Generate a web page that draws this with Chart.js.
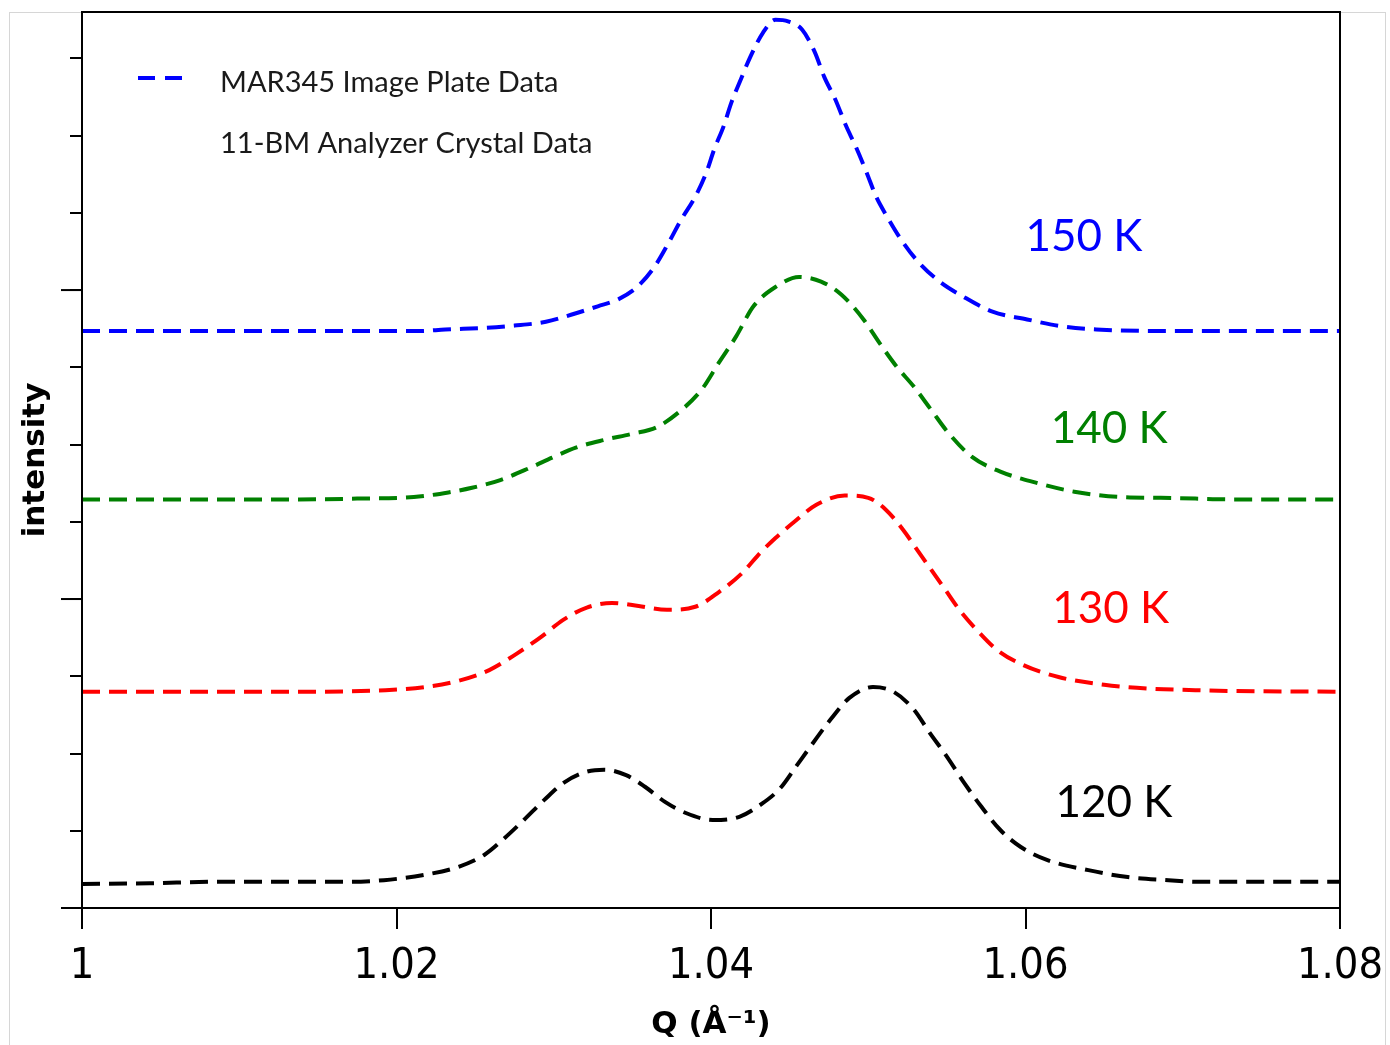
<!DOCTYPE html>
<html>
<head>
<meta charset="utf-8">
<script src="https://cdn.jsdelivr.net/npm/chart.js@4.4.1/dist/chart.umd.min.js"></script>
<style>
  html, body { margin: 0; padding: 0; background: #fff; }
  #frame { position: absolute; left: 9px; top: 12px; width: 1375px; height: 1040px;
           border: 1px solid #d6d6d6; border-bottom: none; }
  #plot  { position: absolute; left: 0; top: 0; }
</style>
</head>
<body>
<div id="frame"></div>
<canvas id="plot" width="1390" height="1045"></canvas>
<script>
// ─── DATA ─────────────────────────────────────────────────────
const q150 = [1.0, 1.0215, 1.0231, 1.0256, 1.0275, 1.0295, 1.0311, 1.0328, 1.0341, 1.0353,
              1.0364, 1.0373, 1.0381, 1.0390, 1.0397, 1.0402, 1.0408, 1.0413, 1.0419, 1.0425,
              1.0433, 1.0441, 1.0449, 1.0458, 1.0466, 1.0472, 1.0479, 1.0486, 1.0492, 1.0499,
              1.0505, 1.0512, 1.0521, 1.0532, 1.0546, 1.0560, 1.0579, 1.0601, 1.0623, 1.0645,
              1.0700, 1.08];
const i150 = [7.47, 7.47, 7.49, 7.51, 7.54, 7.59, 7.68, 7.79, 7.88, 8.04,
              8.30, 8.61, 8.91, 9.21, 9.52, 9.82, 10.12, 10.43, 10.73, 11.02,
              11.33, 11.50, 11.48, 11.37, 11.08, 10.76, 10.47, 10.12, 9.86, 9.52,
              9.21, 8.95, 8.65, 8.36, 8.10, 7.92, 7.72, 7.62, 7.53, 7.49,
              7.47, 7.47];

const q140 = [1.0, 1.0138, 1.0175, 1.0211, 1.0233, 1.0248, 1.0266, 1.0285, 1.0299, 1.0314,
              1.0332, 1.0350, 1.0365, 1.0379, 1.0394, 1.0405, 1.0416, 1.0427, 1.0441, 1.0456,
              1.0470, 1.0483, 1.0497, 1.0507, 1.0518, 1.0529, 1.0540, 1.0551, 1.0566, 1.0584,
              1.0606, 1.0631, 1.0661, 1.0686, 1.0708, 1.0730, 1.08];
const i140 = [5.29, 5.29, 5.30, 5.32, 5.38, 5.44, 5.54, 5.70, 5.83, 5.96,
              6.06, 6.14, 6.22, 6.41, 6.71, 7.06, 7.40, 7.79, 8.04, 8.17,
              8.11, 7.94, 7.62, 7.32, 7.01, 6.75, 6.45, 6.15, 5.84, 5.65,
              5.51, 5.39, 5.32, 5.31, 5.30, 5.29, 5.29];

const q130 = [1.0, 1.0138, 1.0193, 1.0218, 1.0241, 1.0259, 1.0277, 1.0292, 1.0306, 1.0321,
              1.0337, 1.0354, 1.0372, 1.0390, 1.0405, 1.0420, 1.0430, 1.0441, 1.0453, 1.0467,
              1.0485, 1.0500, 1.0511, 1.0522, 1.0531, 1.0540, 1.0549, 1.0558, 1.0569, 1.0582,
              1.0598, 1.0621, 1.0650, 1.0679, 1.0708, 1.0730, 1.08];
const i130 = [2.80, 2.80, 2.82, 2.86, 2.95, 3.08, 3.30, 3.51, 3.73, 3.89,
              3.95, 3.91, 3.86, 3.90, 4.09, 4.34, 4.57, 4.79, 5.00, 5.22,
              5.34, 5.31, 5.16, 4.90, 4.64, 4.38, 4.12, 3.86, 3.60, 3.34,
              3.15, 2.99, 2.89, 2.84, 2.82, 2.81, 2.80];

const q120 = [1.0, 1.0043, 1.0086, 1.0171, 1.0192, 1.0218, 1.0239, 1.0256, 1.0269, 1.0281,
              1.0294, 1.0307, 1.0320, 1.0332, 1.0346, 1.0358, 1.0371, 1.0384, 1.0401, 1.0418,
              1.0431, 1.0444, 1.0454, 1.0465, 1.0476, 1.0488, 1.0503, 1.0516, 1.0529, 1.0539,
              1.0550, 1.0561, 1.0572, 1.0584, 1.0597, 1.0614, 1.0640, 1.0665, 1.0691, 1.0708,
              1.08];
const i120 = [0.31, 0.32, 0.34, 0.34, 0.36, 0.43, 0.53, 0.69, 0.91, 1.14,
              1.40, 1.63, 1.76, 1.79, 1.72, 1.57, 1.37, 1.23, 1.14, 1.18,
              1.33, 1.55, 1.83, 2.14, 2.44, 2.72, 2.86, 2.80, 2.57, 2.27,
              1.96, 1.62, 1.31, 1.01, 0.79, 0.62, 0.49, 0.40, 0.36, 0.34,
              0.34];

const xTickStep  = 0.02;
const yTickStep  = 1;
const yMajorEach = 4;

const legendLabels = ['MAR345 Image Plate Data', '11-BM Analyzer Crystal Data'];

const tempLabels = ['150 K', '140 K', '130 K', '120 K'];
const tempLabelQ = [1.0600, 1.0616, 1.0617, 1.0619];
const tempLabelI = [8.69, 6.20, 3.87, 1.36];

// ─── HELPERS ──────────────────────────────────────────────────
const toPoints = (qs, is) => qs.map((q, k) => ({ x: q, y: is[k] }));

function curve(qs, is, color) {
  return {
    data: toPoints(qs, is),
    borderColor: color,
    borderWidth: 4,
    borderDash: [18, 9],
    pointRadius: 0,
    fill: false,
    cubicInterpolationMode: 'monotone'
  };
}

// ─── PLUGINS ──────────────────────────────────────────────────
// box round the plot + the long (major) ticks on the left axis
const framePlugin = {
  id: 'frame',
  afterDraw(chart) {
    const { ctx, chartArea: a, scales } = chart;
    ctx.save();
    ctx.strokeStyle = '#000';
    ctx.lineWidth = 2;
    ctx.strokeRect(a.left, a.top, a.right - a.left, a.bottom - a.top);
    scales.y.ticks.forEach(t => {
      if (Math.round(t.value) % yMajorEach !== 0) return;
      const y = scales.y.getPixelForValue(t.value);
      ctx.beginPath();
      ctx.moveTo(a.left - 21, y);
      ctx.lineTo(a.left, y);
      ctx.stroke();
    });
    ctx.restore();
  }
};

// legend and temperature labels drawn inside the plot
const notesPlugin = {
  id: 'notes',
  afterDatasetsDraw(chart) {
    const { ctx, chartArea: a, scales } = chart;
    const ds = chart.data.datasets;
    ctx.save();

    // legend
    ctx.font = "29px Lato";
    ctx.textBaseline = 'middle';
    ctx.textAlign = 'left';
    ctx.strokeStyle = ds[0].borderColor;
    ctx.lineWidth = 4;
    ctx.setLineDash([17, 10]);
    ctx.beginPath();
    ctx.moveTo(a.left + 56, 78);
    ctx.lineTo(a.left + 101, 78);
    ctx.stroke();
    ctx.fillStyle = '#1a1a1a';
    legendLabels.forEach((txt, k) => ctx.fillText(txt, a.left + 138, 83 + k * 61));

    // temperature tags
    ctx.font = "44px Lato";
    tempLabels.forEach((txt, k) => {
      ctx.fillStyle = ds[k].borderColor;
      ctx.fillText(txt, scales.x.getPixelForValue(tempLabelQ[k]),
                        scales.y.getPixelForValue(tempLabelI[k]));
    });
    ctx.restore();
  }
};

// ─── CHART ────────────────────────────────────────────────────
new Chart(document.getElementById('plot').getContext('2d'), {
  type: 'line',
  data: {
    datasets: [
      curve(q150, i150, '#0000ff'),
      curve(q140, i140, '#008000'),
      curve(q130, i130, '#ff0000'),
      curve(q120, i120, '#000000')
    ]
  },
  options: {
    responsive: false,
    animation: false,
    layout: { padding: { top: 12, right: 50, left: 0, bottom: 0 } },
    plugins: {
      legend: { display: false },
      tooltip: { enabled: false }
    },
    scales: {
      x: {
        type: 'linear',
        min: 1,
        max: 1.08,
        afterFit(s) { s.height = 137; s.paddingLeft = 0; s.paddingRight = 0; },
        border: { display: false },
        grid: { drawOnChartArea: false, tickLength: 21, color: '#000', lineWidth: 2 },
        ticks: {
          stepSize: xTickStep,
          padding: 12,
          maxRotation: 0,
          color: '#000',
          font: { family: "'DejaVu Sans Condensed', 'Liberation Sans', sans-serif", size: 43 },
          callback: v => String(+v.toFixed(2))
        },
        title: {
          display: true,
          text: 'Q (Å⁻¹)',
          color: '#000',
          padding: { bottom: 1 },
          font: { family: "'DejaVu Sans'", size: 31, weight: 'bold' }
        }
      },
      y: {
        min: 0,
        max: 11.6,
        afterFit(s) { s.width = 82; },
        border: { display: false },
        grid: { drawOnChartArea: false, tickLength: 12, color: '#000', lineWidth: 2 },
        ticks: { display: false, stepSize: yTickStep, includeBounds: false },
        title: {
          display: true,
          text: 'intensity',
          color: '#000',
          padding: { top: 17 },
          font: { family: "'DejaVu Sans'", size: 31, weight: 'bold' }
        }
      }
    }
  },
  plugins: [framePlugin, notesPlugin]
});
</script>
</body>
</html>
